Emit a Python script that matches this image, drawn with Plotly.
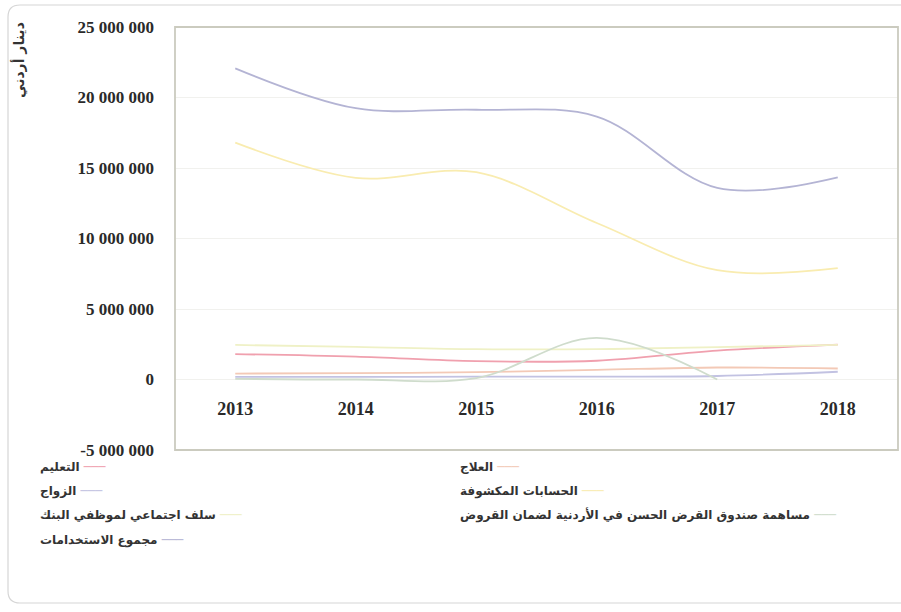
import plotly.graph_objects as go

# Years on the category axis
years = ["2013", "2014", "2015", "2016", "2017", "2018"]

# Uses of funds, Jordanian dinars
education = [1800000, 1620000, 1300000, 1330000, 2050000, 2480000]
treatment = [420000, 450000, 520000, 680000, 850000, 780000]
marriage = [180000, 180000, 200000, 200000, 250000, 550000]
overdraft = [16800000, 14300000, 14700000, 11100000, 7750000, 7900000]
social_loans = [2450000, 2320000, 2150000, 2150000, 2300000, 2450000]
fund_contribution = [50000, 0, 100000, 2950000, 0, None]
total_uses = [22070000, 19240000, 19130000, 18650000, 13590000, 14340000]

# Y axis ticks
y_ticks = [-5000000, 0, 5000000, 10000000, 15000000, 20000000, 25000000]
y_tick_text = ["-5 000 000", "0", "5 000 000", "10 000 000",
               "15 000 000", "20 000 000", "25 000 000"]

series = [
    ("التعليم", education, "#f0a0ae"),
    ("العلاج", treatment, "#f3c9b6"),
    ("الزواج", marriage, "#c2c2e2"),
    ("الحسابات المكشوفة", overdraft, "#f9ecb0"),
    ("سلف اجتماعي لموظفي البنك", social_loans, "#eff1c6"),
    ("مساهمة صندوق القرض الحسن في الأردنية لضمان القروض", fund_contribution, "#cfdccc"),
    ("مجموع الاستخدامات", total_uses, "#b4b4d4"),
]

fig = go.Figure()
for name, vals, color in series:
    fig.add_trace(go.Scatter(
        x=years, y=vals, name=name, mode="lines", showlegend=False,
        line=dict(color=color, width=1.8, shape="spline", smoothing=1.0),
        connectgaps=False,
    ))

# plot-area geometry in pixels (used to place paper-space decorations)
L, R, T, B = 175, 898, 27, 450
W, H = R - L, B - T


def px(x):
    return (x - L) / W


def py(y):
    return (B - y) / H


fig.update_layout(
    width=901, height=612,
    margin=dict(l=L, r=901 - R, t=T, b=612 - B),
    paper_bgcolor="white", plot_bgcolor="white",
    showlegend=False,
    xaxis=dict(
        type="category", range=[-0.5, 5.5],
        anchor="free", position=py(378.8),
        showline=False, ticks="", showgrid=False, zeroline=False,
        tickfont=dict(family="Liberation Serif, serif", size=18,
                      color="#2a2a2a", weight="bold"),
        ticklabelstandoff=17,
    ),
    yaxis=dict(
        range=[-5000000, 25000000],
        tickvals=y_ticks, ticktext=y_tick_text,
        showgrid=True, gridcolor="#f1f1ee", gridwidth=1,
        zeroline=False, showline=False, ticks="",
        tickfont=dict(family="Liberation Serif, serif", size=17,
                      color="#2a2a2a", weight="bold"),
        ticklabelstandoff=20,
    ),
)

# plot-area frame
fig.add_shape(type="rect", xref="paper", yref="paper", x0=0, y0=0, x1=1, y1=1,
              line=dict(color="#cbcbbf", width=1.8), layer="above")

# outer rounded chart border
x0, y0, x1, y1 = px(8), py(5), px(910), py(603)
rx, ry = 12 / W, 12 / H
path = (f"M {x0 + rx},{y0} L {x1},{y0} M {x0 + rx},{y1} L {x1},{y1} "
        f"M {x0 + rx},{y0} Q {x0},{y0} {x0},{y0 - ry} L {x0},{y1 + ry} Q {x0},{y1} {x0 + rx},{y1}")
fig.add_shape(type="path", xref="paper", yref="paper", path=path,
              line=dict(color="#d6d6d6", width=1.2))

# y-axis title
fig.add_annotation(
    text="دينار أردني", xref="paper", yref="paper", x=px(19), y=py(60),
    xanchor="center", yanchor="middle",
    textangle=-90, showarrow=False,
    font=dict(family="DejaVu Sans", size=14, color="#333333", weight="bold"),
)

# legend: two columns, label followed by its line sample
legend_cols = [38, 458]
legend_rows = [467, 491, 515, 540]
for i, (name, vals, color) in enumerate(series):
    col, row = i % 2, i // 2
    fig.add_annotation(
        text=f"{name} <span style='color:{color}'>───</span>",
        xref="paper", yref="paper", x=px(legend_cols[col]), y=py(legend_rows[row]),
        xanchor="left", yanchor="middle", showarrow=False, align="left",
        font=dict(family="DejaVu Sans", size=12, color="#333333", weight="bold"),
    )

fig.write_html("out.html")
